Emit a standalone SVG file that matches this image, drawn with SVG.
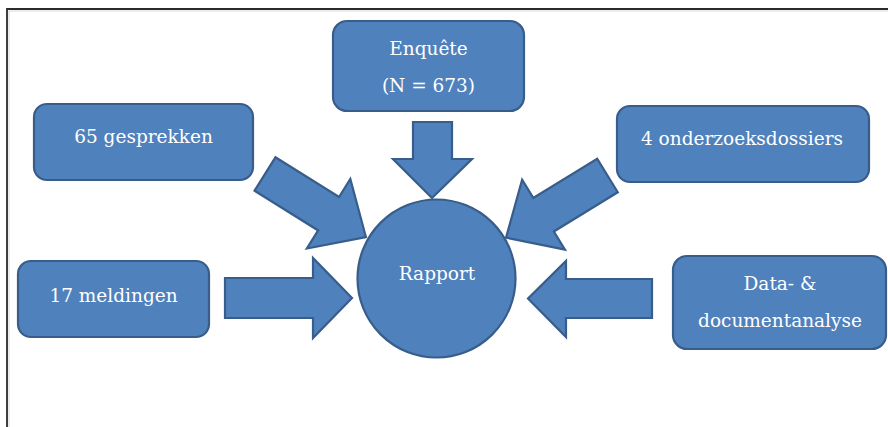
<svg xmlns="http://www.w3.org/2000/svg" width="888" height="427" viewBox="0 0 888 427">
<style>
.shape{fill:#4F81BD;stroke:#385D8A;stroke-width:2.2;stroke-linejoin:miter}
.lbl{font-family:"DejaVu Serif","Liberation Serif",serif;font-size:18.5px;fill:#FFFFFF;text-anchor:middle}
</style>
<rect width="888" height="427" fill="#FFFFFF"/>
<path d="M7 427 V9 H888" fill="none" stroke="#2b2b2b" stroke-width="1.8"/>
<path d="M9 427 V11 H888" fill="none" stroke="#d0d0d0" stroke-width="0.8"/>

<g id="connectors">
  <polygon class="shape" points="413,122 452,122 452,159 472,159 432,198 393,159 413,159"/>
  <polygon class="shape" transform="translate(265,174) rotate(32)" points="0,-19.7 75,-19.7 75,-41 119,0 75,41 75,19.7 0,19.7"/>
  <polygon class="shape" transform="translate(607.5,175.5) rotate(148.5)" points="0,-19.7 75,-19.7 75,-41 119,0 75,41 75,19.7 0,19.7"/>
  <polygon class="shape" points="225,278 313,278 313,258 352,298 313,338 313,318 225,318"/>
  <polygon class="shape" points="652,279 566,279 566,261 528,298.5 566,337 566,318 652,318"/>
</g>

<g id="rapport">
  <circle class="shape" cx="436.5" cy="278.5" r="79"/>
  <text class="lbl" x="437" y="280">Rapport</text>
</g>

<g id="enquete">
  <rect class="shape" x="333" y="21" width="191" height="90" rx="14"/>
  <text class="lbl" x="428.5" y="55">Enquête</text>
  <text class="lbl" x="428.5" y="92">(N = 673)</text>
</g>

<g id="gesprekken">
  <rect class="shape" x="34" y="104" width="219" height="76" rx="13"/>
  <text class="lbl" x="143.5" y="143">65 gesprekken</text>
</g>

<g id="onderzoeksdossiers">
  <rect class="shape" x="617" y="106" width="252" height="76" rx="13"/>
  <text class="lbl" x="742" y="145">4 onderzoeksdossiers</text>
</g>

<g id="meldingen">
  <rect class="shape" x="18" y="261" width="191" height="76" rx="13"/>
  <text class="lbl" x="113.5" y="302">17 meldingen</text>
</g>

<g id="documentanalyse">
  <rect class="shape" x="673" y="256" width="213" height="93" rx="14"/>
  <text class="lbl" x="780" y="290">Data- &amp;</text>
  <text class="lbl" x="780" y="327">documentanalyse</text>
</g>
</svg>
